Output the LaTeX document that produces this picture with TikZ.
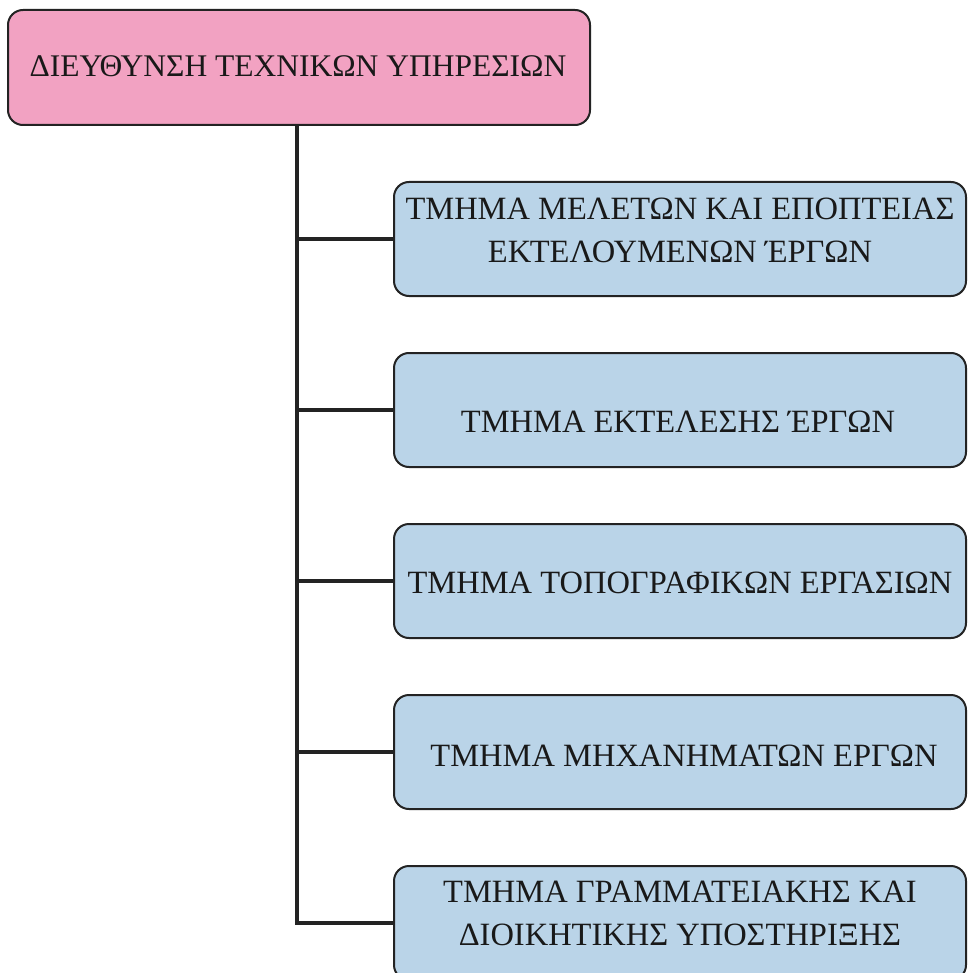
\documentclass[tikz,border=0pt]{standalone}
\usepackage{fontspec}
\setmainfont{Liberation Serif}
\definecolor{headpink}{RGB}{242,162,194}
\definecolor{unitblue}{RGB}{186,212,232}
\definecolor{edge}{RGB}{35,35,35}
\begin{document}
\begin{tikzpicture}[x=1pt,y=1pt,
  boxbase/.style={draw=edge, line width=2pt, rounded corners=15pt, inner sep=0pt},
  headbox/.style={boxbase, fill=headpink, minimum width=582pt, minimum height=115pt},
  unitbox/.style={boxbase, fill=unitblue, minimum width=572pt, minimum height=114pt},
  headtext/.style={align=center, inner sep=0pt, text=black!90,
    font=\fontsize{31.5}{43}\selectfont},
  unittext/.style={align=center, inner sep=0pt, text=black!90,
    font=\fontsize{32.5}{43}\selectfont},
  conn/.style={draw=edge, line width=4pt, line join=miter}]
\useasboundingbox (0,0) rectangle (968,-973);

% head of the directorate
\node[headbox] (dir) at (299,-67.5) {};
\node[headtext] (dirt) at (298,-66) {ΔΙΕΥΘΥΝΣΗ ΤΕΧΝΙΚΩΝ ΥΠΗΡΕΣΙΩΝ};

% departments
\node[unitbox] (d1) at (680,-239) {};
\node[unittext] (d1t) at (680,-230) {ΤΜΗΜΑ ΜΕΛΕΤΩΝ ΚΑΙ ΕΠΟΠΤΕΙΑΣ\\ΕΚΤΕΛΟΥΜΕΝΩΝ ΈΡΓΩΝ};
\node[unitbox] (d2) at (680,-410) {};
\node[unittext] (d2t) at (678,-422) {ΤΜΗΜΑ ΕΚΤΕΛΕΣΗΣ ΈΡΓΩΝ};
\node[unitbox] (d3) at (680,-581) {};
\node[unittext] (d3t) at (680,-583) {ΤΜΗΜΑ ΤΟΠΟΓΡΑΦΙΚΩΝ ΕΡΓΑΣΙΩΝ};
\node[unitbox] (d4) at (680,-752) {};
\node[unittext] (d4t) at (684,-756) {ΤΜΗΜΑ ΜΗΧΑΝΗΜΑΤΩΝ ΕΡΓΩΝ};
\node[unitbox] (d5) at (680,-923) {};
\node[unittext] (d5t) at (680,-913) {ΤΜΗΜΑ ΓΡΑΜΜΑΤΕΙΑΚΗΣ ΚΑΙ\\ΔΙΟΙΚΗΤΙΚΗΣ ΥΠΟΣΤΗΡΙΞΗΣ};

% trunk and branches
\coordinate (trunk) at (297,0);
\draw[conn] (dir.south -| trunk) -- (d5.west -| trunk) -- (d5.west);
\foreach \d in {d1,d2,d3,d4}
  \draw[conn] (\d.west -| trunk) -- (\d.west);
\end{tikzpicture}
\end{document}
